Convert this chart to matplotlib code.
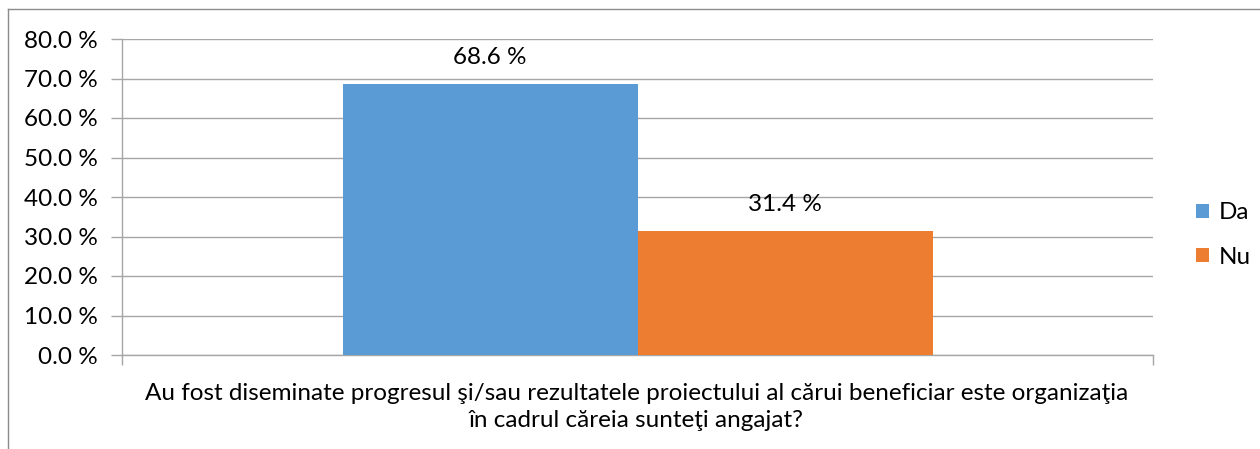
import matplotlib
matplotlib.use("Agg")
import matplotlib.pyplot as plt
from matplotlib.patches import Patch
from matplotlib.lines import Line2D

categories = ["Da", "Nu"]
values = [68.6, 31.4]
colors = ["#5B9BD5", "#ED7D31"]
yticks = [0, 10, 20, 30, 40, 50, 60, 70, 80]
xlabel = ("Au fost diseminate progresul şi/sau rezultatele proiectului al cărui beneficiar este organizaţia\n"
          "în cadrul căreia sunteţi angajat?")

plt.rcParams['font.family'] = ['Lato', 'DejaVu Sans']
FS = 17.5
W, H = 1260, 449
fig = plt.figure(figsize=(W / 100, H / 100), dpi=100)

# figure frame (top and left visible)
fig.add_artist(Line2D([8 / W, 8 / W], [0, 1 - 9 / H], color="#8c8c8c", lw=1.0, transform=fig.transFigure))
fig.add_artist(Line2D([8 / W, 1.0], [1 - 9 / H, 1 - 9 / H], color="#8c8c8c", lw=1.0, transform=fig.transFigure))

left, right = 122 / W, 1153 / W
top, bottom = 1 - 39 / H, 1 - 355 / H
ax = fig.add_axes([left, bottom, right - left, top - bottom])

bw = 295 / 1031
xs = [0.5 - bw / 2, 0.5 + bw / 2]
for x, v, c, lab in zip(xs, values, colors, categories):
    ax.bar(x, v, width=bw, color=c, zorder=3, label=lab)
    ax.text(x, v + 6.8, f"{v:.1f} %", ha="center", va="center", fontsize=FS, color="#000000")

ax.set_xlim(0, 1)
ax.set_ylim(0, 80)
ax.set_yticks(yticks)
ax.set_yticklabels([f"{t:.1f} %" for t in yticks], fontsize=FS)
ax.yaxis.grid(True, color="#a6a6a6", lw=1.0, zorder=0)
ax.set_xticks([0, 1])
ax.set_xticklabels(["", ""])
ax.tick_params(axis="y", length=8, width=1, color="#a6a6a6", pad=9.5)
ax.tick_params(axis="x", length=7, width=1, color="#a6a6a6")
for s in ["top", "right"]:
    ax.spines[s].set_visible(False)
for s in ["left", "bottom"]:
    ax.spines[s].set_color("#a6a6a6")
    ax.spines[s].set_linewidth(1.0)

fig.text((left + right) / 2 - 1 / W, 1 - 407 / H, xlabel, ha="center", va="center",
         fontsize=FS, linespacing=1.38)

handles = [Patch(facecolor=c, label=l) for c, l in zip(colors, categories)]
fig.legend(handles=handles, loc="center left", bbox_to_anchor=(1196 / W, 1 - 235 / H),
           frameon=False, fontsize=FS, handlelength=0.55, handleheight=0.55,
           handletextpad=0.4, labelspacing=0.95, borderpad=0, borderaxespad=0)

fig.savefig("out.png", dpi=100)
